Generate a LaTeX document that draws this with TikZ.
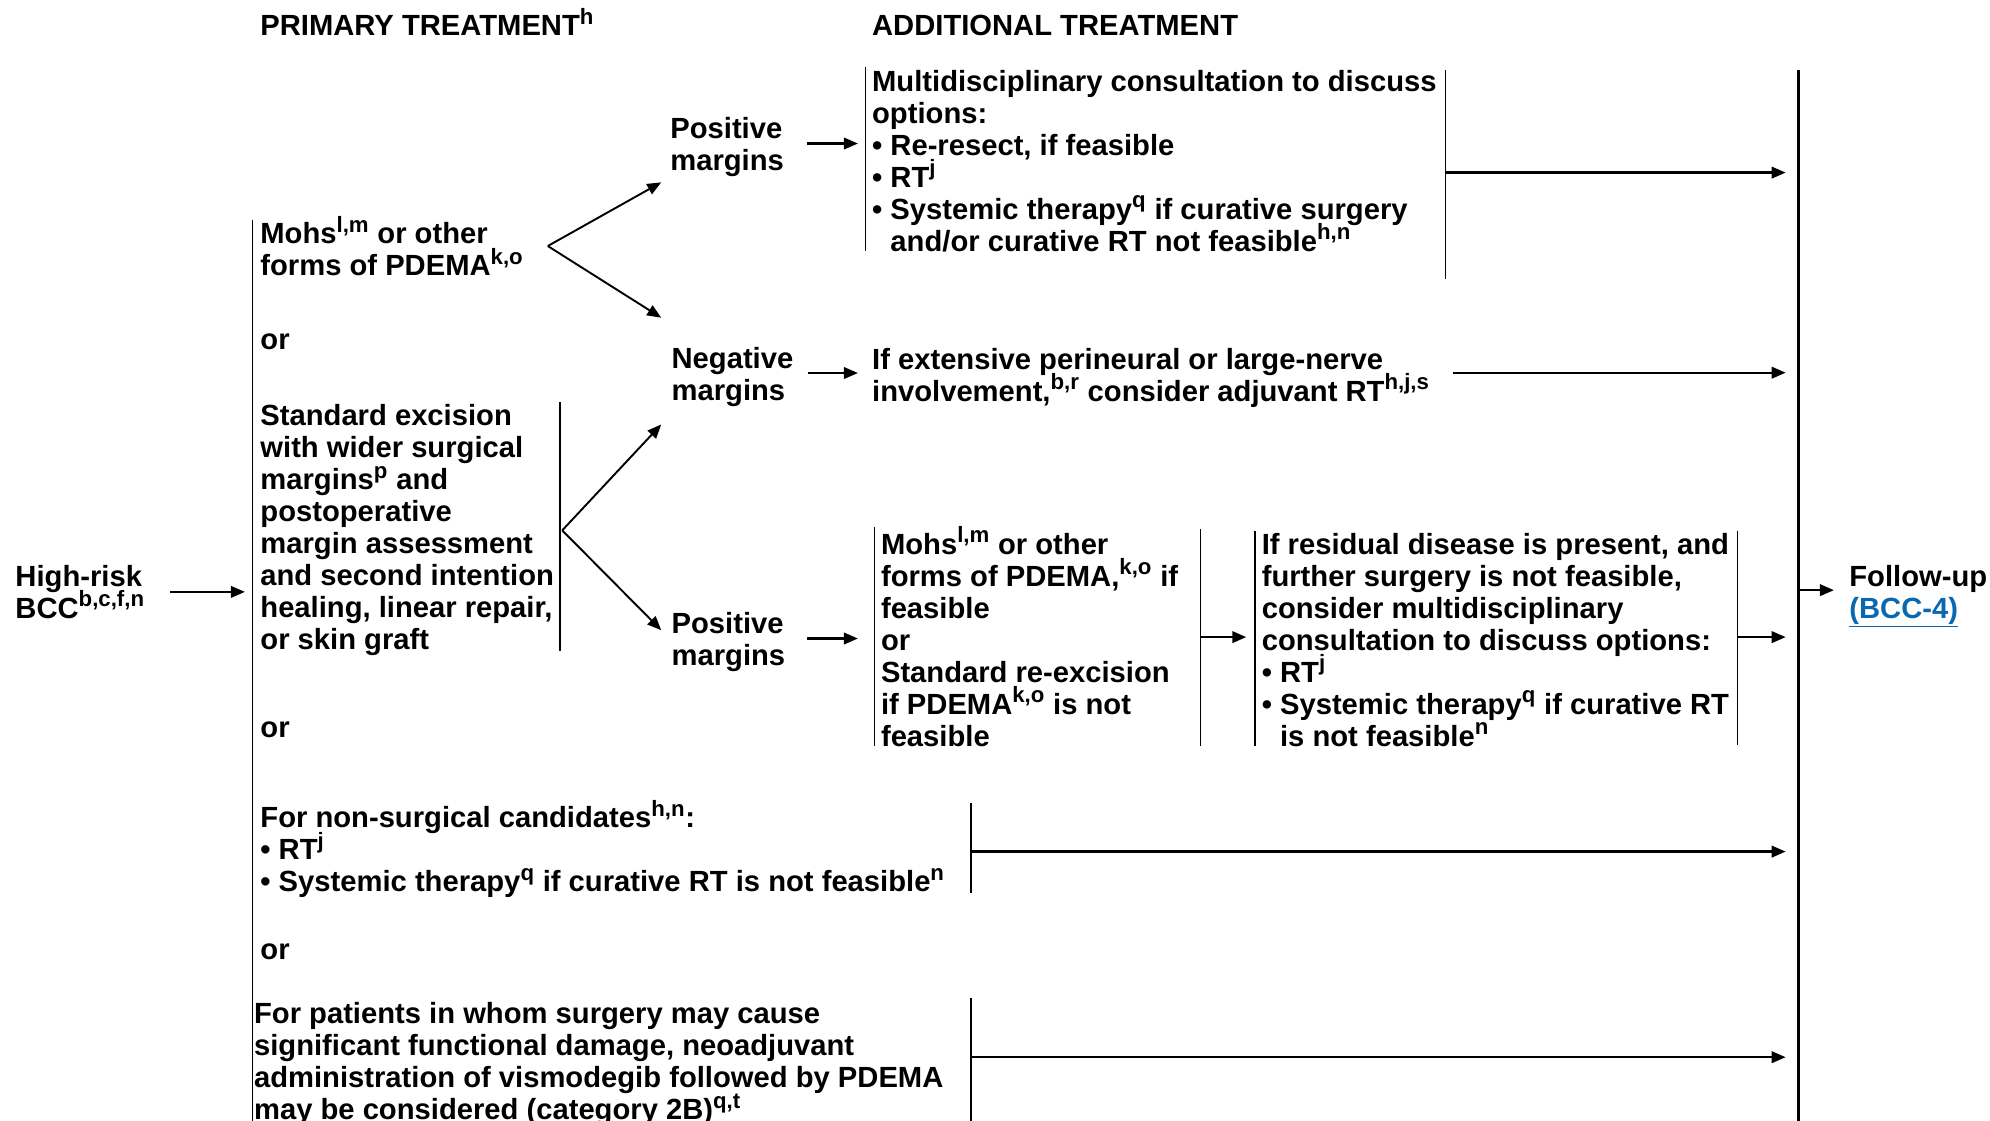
\documentclass[tikz,border=0pt]{standalone}
\usepackage{fontspec}
\setmainfont{Liberation Sans}
\usepackage{tikz}
\usetikzlibrary{arrows.meta,calc}
\definecolor{linkblue}{RGB}{10,104,176}
\newcommand{\sups}[1]{\textsuperscript{\fontsize{17.5}{17.5}\selectfont #1}}

\begin{document}
\begin{tikzpicture}[x=1pt, y=-1pt, font={\fontsize{23}{25.2}\selectfont\bfseries\lineskiplimit=-50pt},
  txt/.style={anchor=base west, align=left, inner sep=0pt},
  bar/.style={line width=1.3pt},
  arr/.style={line width=1.8pt, -{Triangle[length=11pt,width=9pt]}}]
\useasboundingbox (0,0) rectangle (1568,883);
% headings (nodes sit on the baseline of their last line)
\node[txt] (prim) at (205,28) {PRIMARY TREATMENT\sups{h}};
\node[txt] (addl) at (687,28) {ADDITIONAL TREATMENT};
% primary treatment column
\node[txt] (hr) at (12,487.2) {High-risk\\BCC\sups{b,c,f,n}};
\node[txt] (mohs) at (205,217.2) {Mohs\sups{l,m} or other\\forms of PDEMA\sups{k,o}};
\node[txt] (or1) at (205,275) {or};
\node[txt] (std) at (205,512) {Standard excision\\with wider surgical\\margins\sups{p} and\\postoperative\\margin assessment\\and second intention\\healing, linear repair,\\or skin graft};
\node[txt] (or2) at (205,581) {or};
\node[txt] (nonsurg) at (205,702.6) {For non-surgical candidates\sups{h,n}:\\• RT\sups{j}\\• Systemic therapy\sups{q} if curative RT is not feasible\sups{n}};
\node[txt] (or3) at (205,756) {or};
\node[txt] (patients) at (200,882.4) {For patients in whom surgery may cause\\significant functional damage, neoadjuvant\\administration of vismodegib followed by PDEMA\\may be considered (category 2B)\sups{q,t}};
% margins
\node[txt] (pos1) at (528,134.6) {Positive\\margins};
\node[txt] (neg) at (529,315.4) {Negative\\margins};
\node[txt] (pos2) at (529,524.6) {Positive\\margins};
% additional treatment column
\node[txt] (multi) at (687,198) {Multidisciplinary consultation to discuss\\options:\\• Re-resect, if feasible\\• RT\sups{j}\\• Systemic therapy\sups{q} if curative surgery\\\phantom{• }and/or curative RT not feasible\sups{h,n}};
\node[txt] (negtxt) at (687,316.2) {If extensive perineural or large-nerve\\involvement,\sups{b,r} consider adjuvant RT\sups{h,j,s}};
\node[txt] (mohs2) at (694,587.8) {Mohs\sups{l,m} or other\\forms of PDEMA,\sups{k,o} if\\feasible\\or\\Standard re-excision\\if PDEMA\sups{k,o} is not\\feasible};
\node[txt] (resid) at (994,587.8) {If residual disease is present, and\\further surgery is not feasible,\\consider multidisciplinary\\consultation to discuss options:\\• RT\sups{j}\\• Systemic therapy\sups{q} if curative RT\\\phantom{• }is not feasible\sups{n}};
\node[txt] (fu) at (1457,487.2) {Follow-up\\\textcolor{linkblue}{\underline{(BCC-4)}}};

% bars
\draw[bar] (199,173) coordinate (mainT) -- (199,890) coordinate (mainB);
\draw[bar] (441,317) coordinate (stdT) -- (441,513) coordinate (stdB);
\draw[bar] (682,53) coordinate (mtL) -- (682,198);
\draw[bar] (1139,55) coordinate (mtR) -- (1139,220);
\draw[bar] (689,415) coordinate (m2L) -- (689,588);
\draw[bar] (946,417) coordinate (m2R) -- (946,588);
\draw[bar] (989,418) coordinate (rsL) -- (989,588);
\draw[bar] (1369,418) coordinate (rsR) -- (1369,587);
\draw[bar] (765,633) coordinate (nsR) -- (765,704);
\draw[bar] (765,786) coordinate (ptR) -- (765,890);
\draw[line width=1.8pt] (1417,55) coordinate (bigT) -- (1417,890) coordinate (bigB);

% arrows
\draw[arr] ([xshift=20pt]hr.east) -- ([xshift=-6pt]hr.east -| mainT);
\coordinate (v1) at ([xshift=19pt]mohs.east);
\coordinate (v2) at ([xshift=2pt]std.east -| stdT);
\draw[arr, line width=1.5pt] (v1) -- ([xshift=-7pt,yshift=-4pt]pos1.south west);
\draw[arr, line width=1.5pt] (v1) -- ([xshift=-8pt,yshift=23pt]neg.north west);
\draw[arr, line width=1.5pt] (v2) -- ([xshift=-8pt,yshift=-14pt]neg.south west);
\draw[arr, line width=1.5pt] (v2) -- ([xshift=-8pt,yshift=-14pt]pos2.north west);
\draw[arr] ([xshift=18pt,yshift=3pt]pos1.east) -- ([xshift=-6pt,yshift=3pt]pos1.east -| mtL);
\draw[arr] ([xshift=11pt,yshift=3pt]neg.east) -- ([xshift=-11pt,yshift=3pt]neg.east -| negtxt.west);
\draw[arr] ([xshift=17pt,yshift=3pt]pos2.east) -- ([xshift=-13pt,yshift=3pt]pos2.east -| m2L);
\coordinate (a1) at (1139,136);
\draw[arr] (a1) -- ([xshift=-10pt]a1 -| bigT);
\draw[arr] ([xshift=18pt,yshift=4pt]negtxt.east) -- ([xshift=-10pt,yshift=4pt]negtxt.east -| bigT);
\coordinate (a2) at (946,502);
\draw[arr] (a2) -- ([xshift=-7pt]a2 -| rsL);
\coordinate (a3) at (1369,502);
\draw[arr] (a3) -- ([xshift=-10pt]a3 -| bigT);
\coordinate (a4) at (765,671);
\draw[arr] (a4) -- ([xshift=-10pt]a4 -| bigT);
\coordinate (a5) at (765,833);
\draw[arr] (a5) -- ([xshift=-10pt]a5 -| bigT);
\coordinate (a6) at (1417,465);
\draw[arr] (a6) -- ([xshift=-12pt]a6 -| fu.west);
\end{tikzpicture}
\end{document}
